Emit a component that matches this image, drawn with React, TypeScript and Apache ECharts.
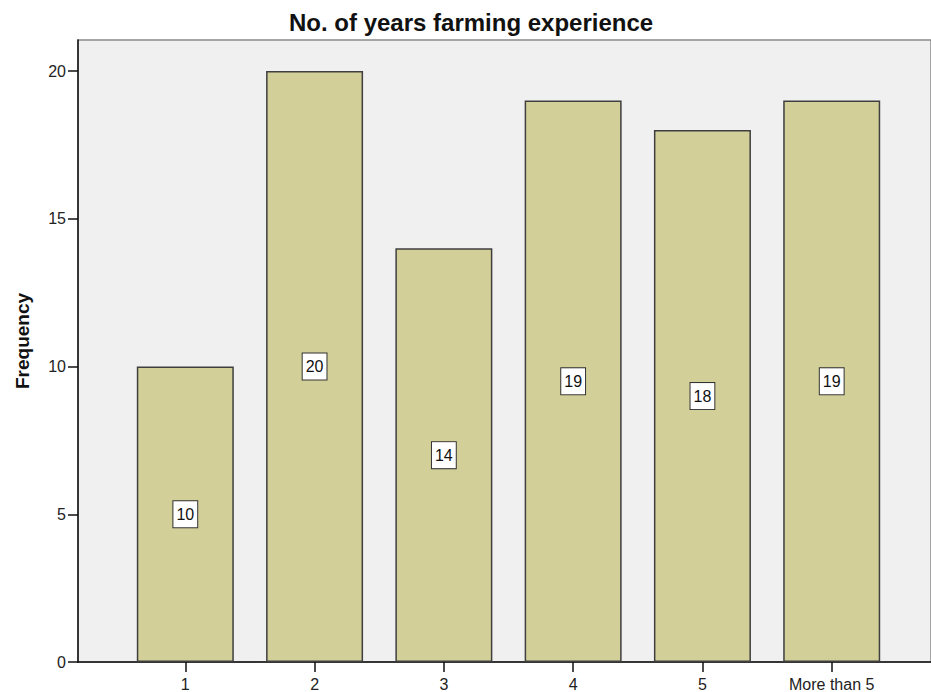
import React, { useEffect, useRef } from "react";
import * as echarts from "echarts";

const titleText = "No. of years farming experience";
const yAxisName = "Frequency";
const categories = ["1", "2", "3", "4", "5", "More than 5"];
const frequencies = [10, 20, 14, 19, 18, 19];
const yTicks = [0, 5, 10, 15, 20];

const FONT = 'Arial, "Liberation Sans", sans-serif';

export default function App() {
  const ref = useRef<HTMLDivElement>(null);
  useEffect(() => {
    if (!ref.current) return;
    const chart = echarts.init(ref.current, null, { renderer: "svg" });
    const positions = categories.map((_, i) => i + 1);
    chart.setOption({
      animation: false,
      backgroundColor: "#ffffff",
      title: {
        text: titleText,
        left: 284,
        top: 5,
        textStyle: { fontFamily: FONT, fontSize: 24, fontWeight: "bold", color: "#111" },
      },
      grid: {
        left: 78,
        top: 40,
        right: 0,
        bottom: 29,
        show: true,
        backgroundColor: "#f0f0f0",
        borderColor: "#8a8a8a",
        borderWidth: 1.5,
      },
      xAxis: {
        type: "value",
        min: 0.17,
        max: 6.768,
        splitLine: { show: false },
        axisLine: { show: true, lineStyle: { color: "#111", width: 1.5 } },
        axisTick: {
          show: true,
          length: 10,
          customValues: positions,
          lineStyle: { color: "#111", width: 1.5 },
        },
        axisLabel: {
          customValues: positions,
          margin: 14,
          fontFamily: FONT,
          fontSize: 16,
          color: "#222",
          formatter: (v: number) => categories[Math.round(v) - 1] ?? "",
        },
      },
      yAxis: {
        type: "value",
        min: 0,
        max: 21.05,
        name: yAxisName,
        nameLocation: "middle",
        nameGap: 46,
        nameTextStyle: {
          fontFamily: FONT,
          fontSize: 19,
          fontWeight: "bold",
          color: "#111",
          padding: [0, 0, 0, 20],
        },
        splitLine: { show: false },
        axisLine: { show: true, lineStyle: { color: "#111", width: 1.5 } },
        axisTick: {
          show: true,
          length: 10,
          customValues: yTicks,
          lineStyle: { color: "#111", width: 1.5 },
        },
        axisLabel: {
          customValues: yTicks,
          margin: 12,
          fontFamily: FONT,
          fontSize: 16,
          color: "#222",
        },
      },
      series: [
        {
          type: "bar",
          barWidth: 97,
          data: frequencies.map((f, i) => [positions[i], f]),
          itemStyle: { color: "#d3cf98", borderColor: "#3f3f3f", borderWidth: 1.5 },
          label: {
            show: true,
            position: "inside",
            formatter: (p: any) => String(p.value[1]),
            fontFamily: FONT,
            fontSize: 16,
            color: "#111",
            backgroundColor: "#ffffff",
            borderColor: "#333",
            borderWidth: 1,
            padding: [5, 3, 3, 3],
            lineHeight: 18,
          },
        },
      ],
    });
    return () => chart.dispose();
  }, []);
  return (
    <div
      ref={ref}
      style={{ position: "fixed", left: 0, top: 0, width: 931, height: 692 }}
    />
  );
}
